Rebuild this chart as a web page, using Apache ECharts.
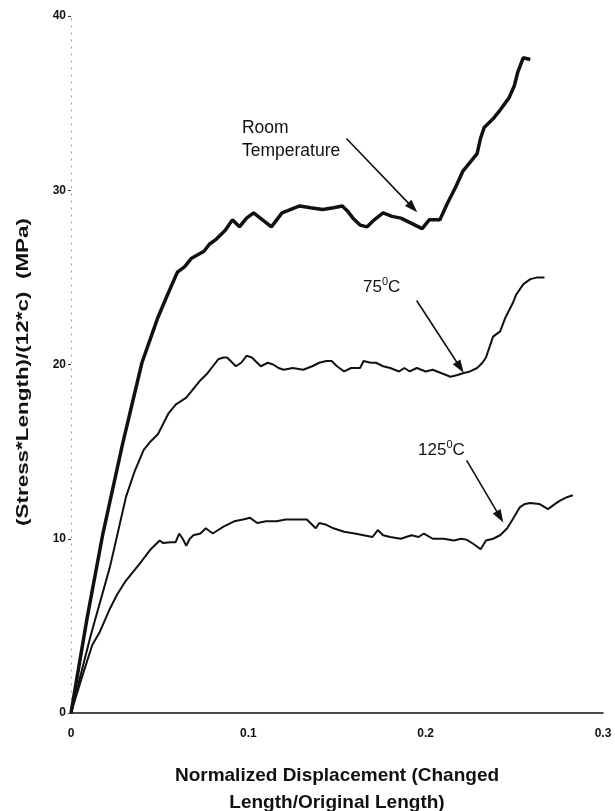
<!DOCTYPE html>
<html>
<head>
<meta charset="utf-8">
<script src="https://cdn.jsdelivr.net/npm/echarts@6/dist/echarts.min.js"></script>
<style>
html,body{margin:0;padding:0;background:#fff;}
#c{width:615px;height:811px;}
</style>
</head>
<body>
<div id="c"></div>
<script>
// ---- data ----
const xTicks = [0, 0.1, 0.2, 0.3];
const yTicks = [0, 10, 20, 30, 40];

const rtX = [0,0.009,0.018,0.029,0.040,0.049,0.054,0.060,0.064,0.068,0.075,0.078,0.082,0.087,0.091,0.095,0.099,0.103,0.108,0.113,0.116,0.119,0.124,0.129,0.135,0.142,0.148,0.153,0.156,0.159,0.163,0.167,0.171,0.176,0.181,0.186,0.192,0.198,0.202,0.208,0.212,0.217,0.221,0.225,0.229,0.231,0.233,0.238,0.242,0.247,0.250,0.252,0.255,0.259];
const rtY = [0,5.4,10.3,15.4,20.1,22.7,23.9,25.3,25.6,26.1,26.5,26.9,27.2,27.7,28.3,27.9,28.4,28.7,28.3,27.9,28.3,28.7,28.9,29.1,29.0,28.9,29.0,29.1,28.8,28.4,28.0,27.9,28.3,28.7,28.5,28.4,28.1,27.8,28.3,28.3,29.2,30.2,31.1,31.6,32.1,33.0,33.6,34.1,34.6,35.3,36.0,36.8,37.6,37.5];

const t75X = [0,0.011,0.022,0.031,0.036,0.041,0.045,0.049,0.052,0.055,0.059,0.065,0.069,0.073,0.077,0.080,0.083,0.086,0.088,0.090,0.093,0.096,0.099,0.102,0.107,0.111,0.114,0.117,0.120,0.125,0.131,0.136,0.140,0.144,0.147,0.150,0.154,0.158,0.163,0.165,0.169,0.172,0.176,0.180,0.185,0.188,0.191,0.195,0.200,0.204,0.209,0.214,0.218,0.221,0.225,0.229,0.232,0.234,0.236,0.238,0.242,0.245,0.249,0.251,0.255,0.259,0.263,0.267];
const t75Y = [0,4.4,8.4,12.4,13.9,15.1,15.6,16.0,16.6,17.2,17.7,18.1,18.6,19.1,19.5,19.9,20.3,20.4,20.4,20.2,19.9,20.1,20.5,20.4,19.9,20.1,20.0,19.8,19.7,19.8,19.7,19.9,20.1,20.2,20.2,19.9,19.6,19.8,19.8,20.2,20.1,20.1,19.9,19.8,19.6,19.8,19.6,19.8,19.6,19.7,19.5,19.3,19.4,19.5,19.6,19.8,20.1,20.4,21.0,21.6,21.9,22.7,23.5,24.0,24.6,24.9,25.0,25.0];

const t125X = [0,0.006,0.012,0.016,0.022,0.026,0.031,0.035,0.039,0.045,0.050,0.052,0.056,0.059,0.061,0.063,0.065,0.067,0.069,0.073,0.076,0.080,0.083,0.086,0.092,0.097,0.101,0.105,0.110,0.116,0.121,0.125,0.130,0.133,0.136,0.138,0.140,0.144,0.148,0.151,0.154,0.160,0.165,0.170,0.173,0.176,0.180,0.186,0.192,0.196,0.199,0.204,0.210,0.216,0.220,0.223,0.227,0.231,0.234,0.238,0.242,0.246,0.249,0.253,0.256,0.259,0.264,0.269,0.273,0.276,0.280,0.283];
const t125Y = [0,2.0,3.9,4.6,6.0,6.8,7.6,8.1,8.6,9.4,9.9,9.75,9.8,9.8,10.3,10.0,9.6,10.0,10.2,10.3,10.6,10.3,10.5,10.7,11.0,11.1,11.2,10.9,11.0,11.0,11.1,11.1,11.1,11.1,10.8,10.6,10.9,10.8,10.6,10.5,10.4,10.3,10.2,10.1,10.5,10.2,10.1,10.0,10.2,10.1,10.3,10.0,10.0,9.9,10.0,9.95,9.7,9.4,9.9,10.0,10.2,10.6,11.1,11.8,12.0,12.05,12.0,11.7,12.0,12.2,12.4,12.5];

const xTitle = 'Normalized Displacement (Changed\nLength/Original Length)';
const yTitle = '(Stress*Length)/(12*c)  (MPa)';

// annotation arrows (data coords): [x1,y1,x2,y2]
const arrowRT = [0.1553, 32.97, 0.1927, 29.0];
const arrow75 = [0.1949, 23.67, 0.2194, 19.84];
const arrow125 = [0.2231, 14.5, 0.2419, 11.26];

const FONT = '"Liberation Sans", Arial, Helvetica, sans-serif';
const zip = (a, b) => a.map((v, i) => [v, b[i]]);
const arrowLine = a => [{coord: [a[0], a[1]]}, {coord: [a[2], a[3]]}];

const chart = echarts.init(document.getElementById('c'), null, {renderer: 'canvas'});
const option = {
  animation: false,
  backgroundColor: '#fff',
  grid: {left: 71, right: 12, top: 16, bottom: 98, containLabel: false},
  xAxis: {
    type: 'value', min: xTicks[0], max: xTicks[xTicks.length - 1], interval: 0.1,
    axisLine: {show: true, lineStyle: {color: '#111', width: 1.5}},
    axisTick: {show: false},
    splitLine: {show: false},
    axisLabel: {margin: 15, color: '#111', fontFamily: FONT, fontWeight: 'bold', fontSize: 12,
      formatter: v => xTicks.includes(+v.toFixed(2)) ? String(+v.toFixed(2)) : ''}
  },
  yAxis: {
    type: 'value', min: yTicks[0], max: yTicks[yTicks.length - 1], interval: 10,
    axisLine: {show: true, lineStyle: {color: '#999', width: 1, type: [1, 6]}},
    axisTick: {show: true, length: 3, lineStyle: {color: '#333', width: 1}},
    splitLine: {show: false},
    axisLabel: {margin: 5, color: '#111', fontFamily: FONT, fontWeight: 'bold', fontSize: 12}
  },
  series: [
    {
      name: 'Room Temperature', type: 'line', data: zip(rtX, rtY), showSymbol: false,
      lineStyle: {color: '#111', width: 3.5}, z: 3,
      markLine: {
        silent: true, symbol: ['none', 'triangle'], symbolSize: [9, 13],
        label: {show: false}, lineStyle: {color: '#111', width: 1.6, type: 'solid'},
        data: [arrowLine(arrowRT), arrowLine(arrow75), arrowLine(arrow125)]
      }
    },
    {name: '75C', type: 'line', data: zip(t75X, t75Y), showSymbol: false, lineStyle: {color: '#111', width: 2}},
    {name: '125C', type: 'line', data: zip(t125X, t125Y), showSymbol: false, lineStyle: {color: '#111', width: 2}}
  ]
};
chart.setOption(option);

const px = (x, y) => chart.convertToPixel({gridIndex: 0}, [x, y]);
const pRT = px(0.0964, 34.2);
const p75 = px(0.1647, 24.5);
const p125 = px(0.1957, 15.15);
const rich = {
  n: {fontSize: 17, fontFamily: FONT, fill: '#111', lineHeight: 20, verticalAlign: 'bottom'},
  s: {fontSize: 11, fontFamily: FONT, fill: '#111', lineHeight: 20, verticalAlign: 'top'}
};
chart.setOption({
  graphic: [
    {type: 'text', left: pRT[0], top: pRT[1], style: {text: 'Room\nTemperature', fontFamily: FONT, fontSize: 17.5, lineHeight: 23, fill: '#111'}},
    {type: 'text', left: p75[0], top: p75[1] - 10, style: {text: '{n|75}{s|0}{n|C}', rich: rich}},
    {type: 'text', left: p125[0], top: p125[1] - 10, style: {text: '{n|125}{s|0}{n|C}', rich: rich}},
    {type: 'text', x: 337, y: 762, style: {text: xTitle, textAlign: 'center', fontFamily: FONT, fontWeight: 'bold', fontSize: 19, lineHeight: 27, fill: '#111'}},
    {type: 'text', x: 23, y: 372, rotation: Math.PI / 2, scaleX: 1.32, style: {text: yTitle, textAlign: 'center', textVerticalAlign: 'middle', fontFamily: FONT, fontWeight: 'bold', fontSize: 17, fill: '#111'}}
  ]
});
</script>
</body>
</html>
